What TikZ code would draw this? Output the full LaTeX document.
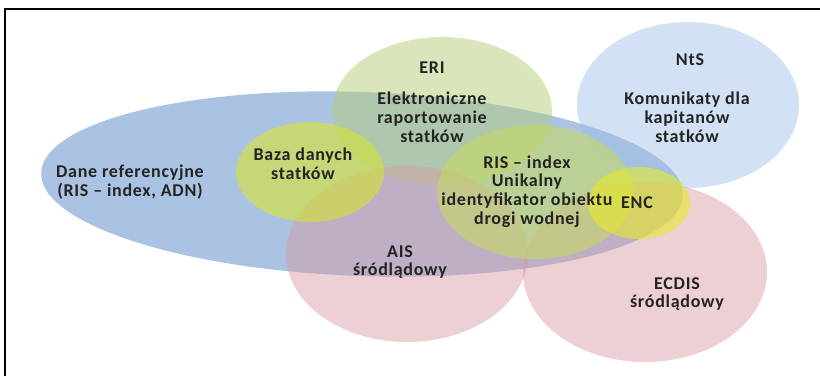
\documentclass[tikz,border=0pt]{standalone}
\usepackage{fontspec}
\setmainfont{Carlito}[LetterSpace=4]
\usetikzlibrary{shapes.geometric}
\usepackage{xcolor}
\definecolor{RisBlue}{RGB}{115,155,208}
\definecolor{RisGreen}{RGB}{180,205,120}
\definecolor{RisSky}{RGB}{155,190,230}
\definecolor{RisPink}{RGB}{215,150,160}
\definecolor{RisYellow}{RGB}{210,225,60}
\definecolor{RisLime}{RGB}{200,220,90}
\definecolor{RisLemon}{RGB}{230,235,40}
\definecolor{RisText}{RGB}{35,35,35}

\begin{document}
\begin{tikzpicture}[x=1pt,y=-1pt,
blob/.style={ellipse,inner sep=0pt,draw=none,fill opacity=0.55},
lbl/.style={align=center,text=RisText,
font=\fontsize{18}{18.8}\selectfont\bfseries}
]
\useasboundingbox (0,0) rectangle (820,376);
\draw[line width=1.5pt] (5,376) -- (5,9) -- (820,9);

% ellipses
\node[blob,fill=RisBlue,fill opacity=0.6,minimum width=642pt,minimum height=184pt,rotate=-2] (dane) at (362,184) {};
\node[blob,fill=RisGreen,fill opacity=0.5,minimum width=220pt,minimum height=148pt] (eri) at (442,111) {};
\node[blob,fill=RisSky,fill opacity=0.45,minimum width=222pt,minimum height=166pt] (nts) at (688,105) {};
\node[blob,fill=RisPink,fill opacity=0.45,minimum width=242pt,minimum height=176pt] (ais) at (407,254) {};
\node[blob,fill=RisPink,fill opacity=0.45,minimum width=244pt,minimum height=180pt] (ecdis) at (645,272) {};
\node[blob,fill=RisYellow,fill opacity=0.65,minimum width=148pt,minimum height=100pt] (baza) at (310,172) {};
\node[blob,fill=RisLime,fill opacity=0.55,minimum width=196pt,minimum height=134pt] (ris) at (535,192) {};
\node[blob,fill=RisLemon,fill opacity=0.6,minimum width=102pt,minimum height=72pt] (enc) at (639,203) {};

% labels
\node[lbl] (daneT) at (130,182) {Dane referencyjne\\(RIS -- index, ADN)};
\node[lbl] (bazaT) at (303,164) {Baza danych\\statków};
\node[lbl] (eriH) at (432,68) {ERI};
\node[lbl] (eriT) at (432,117) {Elektroniczne\\raportowanie\\statków};
\node[lbl] (ntsH) at (690,60) {NtS};
\node[lbl] (ntsT) at (687,117) {Komunikaty dla\\kapitanów\\statków};
\node[lbl] (risT) at (527,191.5) {RIS -- index\\Unikalny\\identyfikator obiektu\\drogi wodnej};
\node[lbl] (encT) at (637,203) {ENC};
\node[lbl] (aisT) at (400,262) {AIS\\śródlądowy};
\node[lbl] (ecdisT) at (677,294) {ECDIS\\śródlądowy};
\end{tikzpicture}
\end{document}
